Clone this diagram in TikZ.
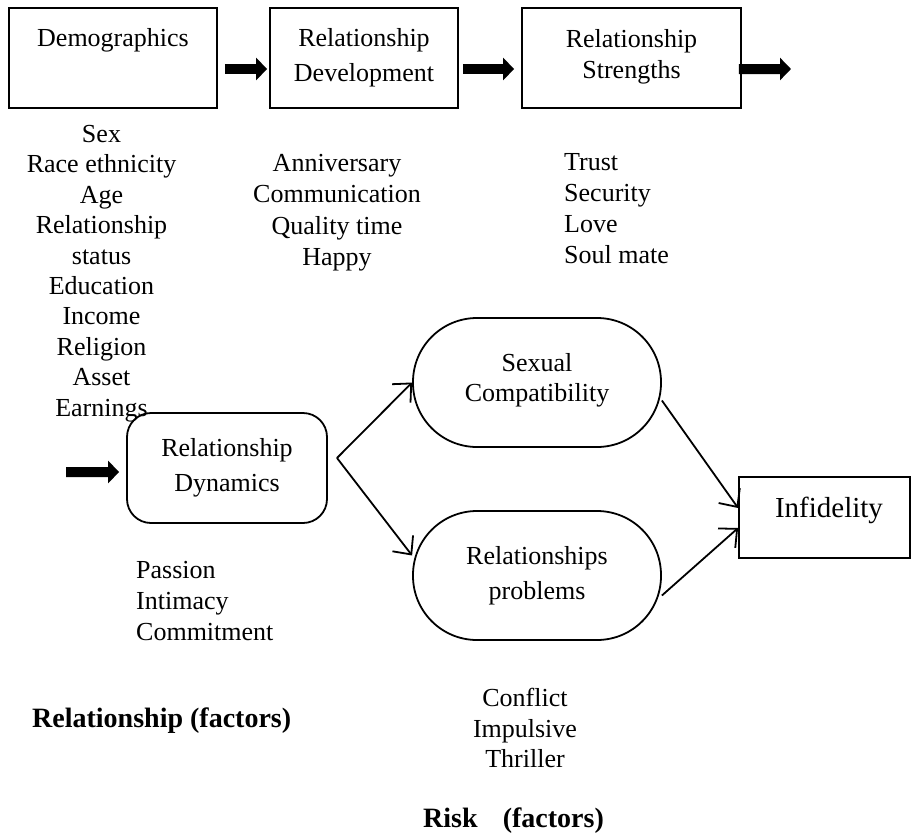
\documentclass[tikz,border=0pt]{standalone}
\usepackage{fontspec}
\setmainfont{Liberation Serif}
\usetikzlibrary{arrows.meta}
\begin{document}
\begin{tikzpicture}[x=1bp,y=-1bp,
  every node/.style={font=\fontsize{26bp}{30.5bp}\selectfont, inner sep=0pt},
  box/.style={draw, line width=1.8bp, rectangle, minimum width=#1, minimum height=100bp},
  roundbox/.style={draw, line width=1.8bp, rectangle, rounded corners=24bp, minimum width=200bp, minimum height=110bp},
  stadium/.style={draw, line width=1.8bp, rectangle, rounded corners=64bp, minimum width=248bp, minimum height=129bp},
  txt/.style={anchor=north, align=center},
  ltxt/.style={anchor=north west, align=left},
  blockarrow/.style={line width=10bp, -{Triangle[length=11bp,width=22bp]}},
  thinarrow/.style={line width=1.8bp, -{Straight Barb[length=14bp,width=26bp,line width=1.8bp]}},
  boldlabel/.style={anchor=north west, font=\fontsize{28bp}{32bp}\selectfont\bfseries}
]
\useasboundingbox (0,0) rectangle (912,834);

% top row boxes
\node[box=208bp] (demo) at (113,58) {};
\node[box=188bp] (dev) at (364,58) {};
\node[box=219bp] (str) at (631.5,58) {};
\node[txt] (demotxt) at (113,28) {Demographics};
\node[txt, font=\fontsize{26bp}{35bp}\selectfont] (devtxt) at (364,28) {Relationship\\Development};
\node[txt, font=\fontsize{26bp}{31bp}\selectfont] (strtxt) at (631.5,29) {Relationship\\Strengths};

% block arrows top
\coordinate (free1) at (791,69);
\draw[blockarrow] ([shift={(7bp,-11bp)}]demo.east) -- ([shift={(-2bp,-11bp)}]dev.west);
\draw[blockarrow] ([shift={(4bp,-11bp)}]dev.east) -- ([shift={(-7bp,-11bp)}]str.west);
\draw[blockarrow] ([shift={(-3bp,-11bp)}]str.east) -- (free1);

% lists
\node[txt, font=\fontsize{26bp}{30.4bp}\selectfont] (demolist) at (101.5,125) {Sex\\Race ethnicity\\Age\\Relationship\\status\\Education\\Income\\Religion\\Asset\\Earnings};
\node[txt, font=\fontsize{26bp}{31.3bp}\selectfont] (devlist) at (337,154) {Anniversary\\Communication\\Quality time\\Happy};
\node[ltxt, font=\fontsize{26bp}{31bp}\selectfont] (strlist) at (564,153) {Trust\\Security\\Love\\Soul mate};

% relationship dynamics
\node[roundbox] (dyn) at (227,468) {};
\node[txt, font=\fontsize{26bp}{35bp}\selectfont] (dyntxt) at (227,438) {Relationship\\Dynamics};
\coordinate (free2) at (66,472);
\draw[blockarrow] (free2) -- ([shift={(-7bp,-4bp)}]dyn.west);
\node[ltxt, font=\fontsize{26bp}{31bp}\selectfont] (dynlist) at (136,561) {Passion\\Intimacy\\Commitment};

% stadiums
\node[stadium] (sex) at (537,382.5) {};
\node[txt, font=\fontsize{26bp}{30bp}\selectfont] (sextxt) at (537,353) {Sexual\\Compatibility};
\node[stadium] (prob) at (537,575.5) {};
\node[txt, font=\fontsize{26bp}{35bp}\selectfont] (probtxt) at (537,546) {Relationships\\problems};
\node[txt, font=\fontsize{26bp}{30.5bp}\selectfont] (risklist) at (525,688) {Conflict\\Impulsive\\Thriller};

% infidelity
\node[draw, line width=1.8bp, rectangle, minimum width=171bp, minimum height=81bp] (inf) at (824.5,517.5) {};
\node[txt, font=\fontsize{29bp}{33bp}\selectfont] (inftxt) at (829,497) {Infidelity};

% thin arrows
\coordinate (split) at (337,458);
\draw[thinarrow] (split) -- (sex.west);
\draw[thinarrow] (split) -- ([yshift=20bp]prob.west);
\draw[thinarrow] ([yshift=-18bp]sex.east) -- ([yshift=9.5bp]inf.west);
\draw[thinarrow] ([yshift=-20bp]prob.east) -- ([yshift=-10.5bp]inf.west);

% bold labels
\node[boldlabel] (relfac) at (32,708) {Relationship (factors)};
\node[boldlabel] (riskfac) at (423,808) {Risk\hspace{0.9em}(factors)};
\end{tikzpicture}
\end{document}
